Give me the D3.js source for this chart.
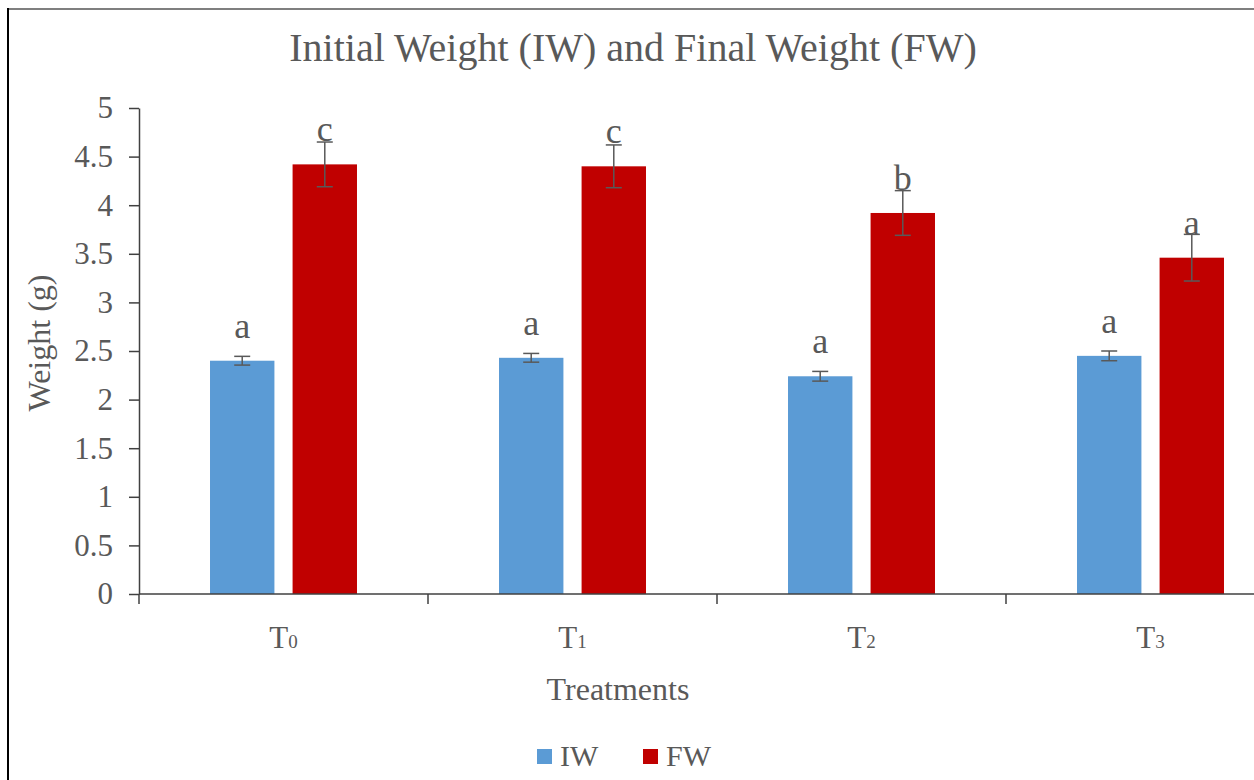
<!DOCTYPE html>
<html>
<head>
<meta charset="utf-8">
<script src="https://cdn.jsdelivr.net/npm/d3@7/dist/d3.min.js"></script>
<style>
  body { margin: 0; background: #fff; }
</style>
</head>
<body>
<div class="chart"></div>
<script>
// data
const treatments = ["T0", "T1", "T2", "T3"];
const subs = ["0", "1", "2", "3"];
const series = ["IW", "FW"];
const iwValues = [2.40, 2.43, 2.24, 2.45];
const fwValues = [4.42, 4.40, 3.92, 3.46];
const iwErr = [0.045, 0.045, 0.05, 0.05];
const fwErr = [0.23, 0.22, 0.23, 0.24];
const iwLetters = ["a", "a", "a", "a"];
const fwLetters = ["c", "c", "b", "a"];
const yTicks = [0, 0.5, 1, 1.5, 2, 2.5, 3, 3.5, 4, 4.5, 5];
const colors = { IW: "#5B9BD5", FW: "#C00000" };

const w = 1254, h = 780;
const padLeft = 139, padRight = 1295, padTop = 108, padBottom = 594;
const serif = "'Liberation Serif', 'DejaVu Serif', Tinos, 'Times New Roman', serif";

var svg = d3.select(".chart").append("svg")
    .attr("width", w)
    .attr("height", h)
    .attr("font-family", serif)
    .style("font-family", serif);

// frame (cut at right / bottom like the original screenshot)
svg.append("line").attr("x1", 8).attr("x2", w).attr("y1", 9).attr("y2", 9)
   .attr("stroke", "#7f7f7f").attr("stroke-width", 2);
svg.append("line").attr("x1", 8).attr("x2", 8).attr("y1", 8).attr("y2", h)
   .attr("stroke", "#000").attr("stroke-width", 2);

var x0 = d3.scaleBand().domain(treatments).range([padLeft, padRight]).padding(0);
var x1 = d3.scaleBand().domain(series).range([0, x0.bandwidth()])
    .paddingInner(0.22).paddingOuter(0.86);
var y = d3.scaleLinear().domain([0, 5]).range([padBottom, padTop]);

var rows = treatments.map((t, i) => [
  { t: t, s: "IW", v: iwValues[i], e: iwErr[i], l: iwLetters[i] },
  { t: t, s: "FW", v: fwValues[i], e: fwErr[i], l: fwLetters[i] }
]).flat();

// title
svg.append("text")
   .attr("x", 633).attr("y", 61)
   .attr("text-anchor", "middle")
   .style("font-size", "40px")
   .attr("fill", "#595959")
   .text("Initial Weight (IW) and Final Weight (FW)");

// bars
svg.selectAll(".bar")
   .data(rows)
   .enter().append("rect")
   .attr("class", "bar")
   .attr("x", d => x0(d.t) + x1(d.s))
   .attr("y", d => y(d.v))
   .attr("width", x1.bandwidth())
   .attr("height", d => padBottom - y(d.v))
   .attr("fill", d => colors[d.s]);

// error bars
var cx = d => x0(d.t) + x1(d.s) + x1.bandwidth() / 2;
var eb = svg.selectAll(".err").data(rows).enter().append("g")
   .attr("class", "err")
   .attr("stroke", "#595959").attr("stroke-width", 1.5);
eb.append("line").attr("x1", cx).attr("x2", cx)
  .attr("y1", d => y(d.v + d.e)).attr("y2", d => y(d.v - d.e));
eb.append("line").attr("x1", d => cx(d) - 8).attr("x2", d => cx(d) + 8)
  .attr("y1", d => y(d.v + d.e)).attr("y2", d => y(d.v + d.e));
eb.append("line").attr("x1", d => cx(d) - 8).attr("x2", d => cx(d) + 8)
  .attr("y1", d => y(d.v - d.e)).attr("y2", d => y(d.v - d.e));

// letters
svg.selectAll(".lbl").data(rows).enter().append("text")
   .attr("class", "lbl")
   .attr("x", cx)
   .attr("y", d => y(d.v) - 23)
   .attr("text-anchor", "middle")
   .attr("fill", "#595959")
   .style("font-size", "36px")
   .text(d => d.l);

// y axis
var yAxis = d3.axisLeft(y).tickValues(yTicks).tickSizeInner(10).tickSizeOuter(0)
    .tickPadding(16).tickFormat(d3.format("~g"));
var gy = svg.append("g").attr("transform", "translate(" + padLeft + ",0)").call(yAxis);
gy.attr("font-family", null);
gy.selectAll("text").style("font-size", "31px").attr("fill", "#595959");
gy.selectAll("line, path").attr("stroke", "#404040").attr("stroke-width", 1.5);

// x axis: ticks at category boundaries
svg.append("line").attr("x1", padLeft).attr("x2", padRight).attr("y1", padBottom).attr("y2", padBottom)
   .attr("stroke", "#404040").attr("stroke-width", 1.5);
svg.selectAll(".xtick").data(treatments).enter().append("line")
   .attr("class", "xtick")
   .attr("x1", d => x0(d)).attr("x2", d => x0(d))
   .attr("y1", padBottom).attr("y2", padBottom + 10)
   .attr("stroke", "#404040").attr("stroke-width", 1.5);

var xl = svg.selectAll(".xlbl").data(treatments).enter().append("text")
   .attr("class", "xlbl")
   .attr("x", d => x0(d) + x0.bandwidth() / 2)
   .attr("y", 648)
   .attr("text-anchor", "middle")
   .attr("fill", "#595959")
   .style("font-size", "31px");
xl.append("tspan").text("T");
xl.append("tspan").style("font-size", "19px").text((d, i) => subs[i]);

// axis titles
svg.append("text")
   .attr("x", 618).attr("y", 700)
   .attr("text-anchor", "middle")
   .attr("fill", "#595959")
   .style("font-size", "32px")
   .text("Treatments");
svg.append("text")
   .attr("transform", "translate(50,343) rotate(-90)")
   .attr("text-anchor", "middle")
   .attr("fill", "#595959")
   .style("font-size", "32px")
   .text("Weight (g)");

// legend
var leg = svg.selectAll(".leg").data(series).enter().append("g")
   .attr("class", "leg")
   .attr("transform", (d, i) => "translate(" + (537 + i * 106) + ",749)");
leg.append("rect").attr("width", 15).attr("height", 15).attr("fill", d => colors[d]);
leg.append("text").attr("x", 23).attr("y", 17)
   .attr("fill", "#595959")
   .style("font-size", "30px").text(d => d);
</script>
</body>
</html>
